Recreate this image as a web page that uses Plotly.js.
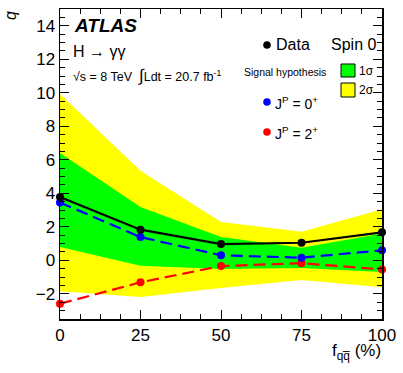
<!DOCTYPE html>
<html><head><meta charset="utf-8">
<script src="https://cdn.plot.ly/plotly-3.0.1.min.js"></script>
<style>html,body{margin:0;padding:0;background:#fff;}#chart{width:403px;height:373px;}</style>
</head><body><div id="chart"></div>
<script>
const fqq = [0, 25, 50, 75, 100];
const dataQ = [3.78, 1.83, 0.97, 1.05, 1.67];
const spin0Q = [3.45, 1.39, 0.30, 0.16, 0.60];
const spin2Q = [-2.59, -1.31, -0.34, -0.17, -0.54];
const band1Up = [6.41, 3.19, 1.40, 0.75, 1.60];
const band1Lo = [0.80, -0.32, -0.52, -0.45, -0.70];
const band2Up = [9.92, 5.34, 2.29, 1.70, 3.05];
const band2Lo = [-1.85, -2.19, -1.65, -1.18, -1.60];

const FONT = '"Liberation Sans", Arial, sans-serif';
const traces = [
  {x: fqq, y: band2Lo, mode: 'lines', line: {width: 0, color: '#ffff00'}, hoverinfo: 'skip', showlegend: false},
  {x: fqq, y: band2Up, mode: 'lines', line: {width: 0, color: '#ffff00'}, fill: 'tonexty', fillcolor: '#ffff00', hoverinfo: 'skip', showlegend: false},
  {x: fqq, y: band1Lo, mode: 'lines', line: {width: 0, color: '#00ff00'}, hoverinfo: 'skip', showlegend: false},
  {x: fqq, y: band1Up, mode: 'lines', line: {width: 0, color: '#00ff00'}, fill: 'tonexty', fillcolor: '#00ff00', hoverinfo: 'skip', showlegend: false},
  {x: fqq, y: spin2Q, mode: 'lines+markers', line: {color: '#ff0000', width: 2.2, dash: '12px,6px'}, marker: {color: '#ff0000', size: 8}, cliponaxis: false, showlegend: false},
  {x: fqq, y: spin0Q, mode: 'lines+markers', line: {color: '#0000ff', width: 2.2, dash: '12px,6px'}, marker: {color: '#0000ff', size: 8}, cliponaxis: false, showlegend: false},
  {x: fqq, y: dataQ, mode: 'lines+markers', line: {color: '#000000', width: 2.2}, marker: {color: '#000000', size: 8}, cliponaxis: false, showlegend: false}
];

function px(x){return (x-60)/322;}
function py(y){return (319-y)/310;}
function ann(text, x, y, size, extra){
  return Object.assign({text: text, xref: 'paper', yref: 'paper', x: px(x), y: py(y), xanchor: 'left', yanchor: 'middle', showarrow: false, font: {family: FONT, size: size, color: '#000'}}, extra||{});
}
const annotations = [
  ann('<b><i>ATLAS</i></b>', 72, 26, 19),
  ann('H \u2192 \u03b3\u03b3', 71, 51, 16),
  ann('\u221as = 8 TeV  <span style="font-size:17px">\u222b</span>Ldt = 20.7 fb<sup>-1</sup>', 71, 75, 12.5),
  ann('Data', 274, 45, 16),
  ann('Spin 0', 329, 45, 16),
  ann('Signal hypothesis', 242, 72, 10.5),
  ann('1\u03c3', 357, 71, 12),
  ann('2\u03c3', 357, 90, 12),
  ann('J<sup>P</sup> = 0<sup>+</sup>', 273, 103, 14),
  ann('J<sup>P</sup> = 2<sup>+</sup>', 273, 133, 14),
  ann('<i>q</i>', 10, 16, 16, {xanchor: 'center', textangle: -90}),
  ann('f<sub>qq\u0305</sub> (%)', 383, 352, 17, {xanchor: 'right'})
];
function dot(cx, cy, r, color){
  return {type: 'circle', xref: 'paper', yref: 'paper', x0: px(cx-r), x1: px(cx+r), y0: py(cy+r), y1: py(cy-r), fillcolor: color, line: {width: 0}};
}
const shapes = [
  dot(267, 45, 3.8, '#000'),
  dot(267, 102, 3.8, '#0000ff'),
  dot(267, 132, 3.8, '#ff0000'),
  {type: 'rect', xref: 'paper', yref: 'paper', x0: px(341), x1: px(355), y0: py(77), y1: py(64), fillcolor: '#00ff00', line: {color: '#000', width: 1}},
  {type: 'rect', xref: 'paper', yref: 'paper', x0: px(341), x1: px(355), y0: py(97), y1: py(83), fillcolor: '#ffff00', line: {color: '#000', width: 1}}
];

const layout = {
  width: 403, height: 373,
  margin: {l: 60, r: 21, t: 9, b: 54},
  paper_bgcolor: '#fff', plot_bgcolor: '#fff',
  font: {family: FONT, color: '#000'},
  showlegend: false,
  xaxis: {range: [0, 100], tick0: 0, dtick: 25, ticks: 'inside', ticklen: 9, tickwidth: 1, tickcolor: '#000',
    minor: {dtick: 6.25, ticks: 'inside', ticklen: 5, tickcolor: '#000'},
    showline: true, linecolor: '#000', linewidth: 1.5, mirror: 'allticks', showgrid: false, zeroline: false,
    tickfont: {family: FONT, size: 17, color: '#000'}},
  yaxis: {range: [-3.5, 15], tick0: 0, dtick: 2, ticks: 'inside', ticklen: 9, tickwidth: 1, tickcolor: '#000',
    minor: {dtick: 0.5, ticks: 'inside', ticklen: 5, tickcolor: '#000'},
    showline: true, linecolor: '#000', linewidth: 1.5, mirror: 'allticks', showgrid: false, zeroline: false,
    tickfont: {family: FONT, size: 17, color: '#000'}},
  annotations: annotations,
  shapes: shapes
};
Plotly.newPlot('chart', traces, layout, {staticPlot: true, displayModeBar: false});
</script>
</body></html>
